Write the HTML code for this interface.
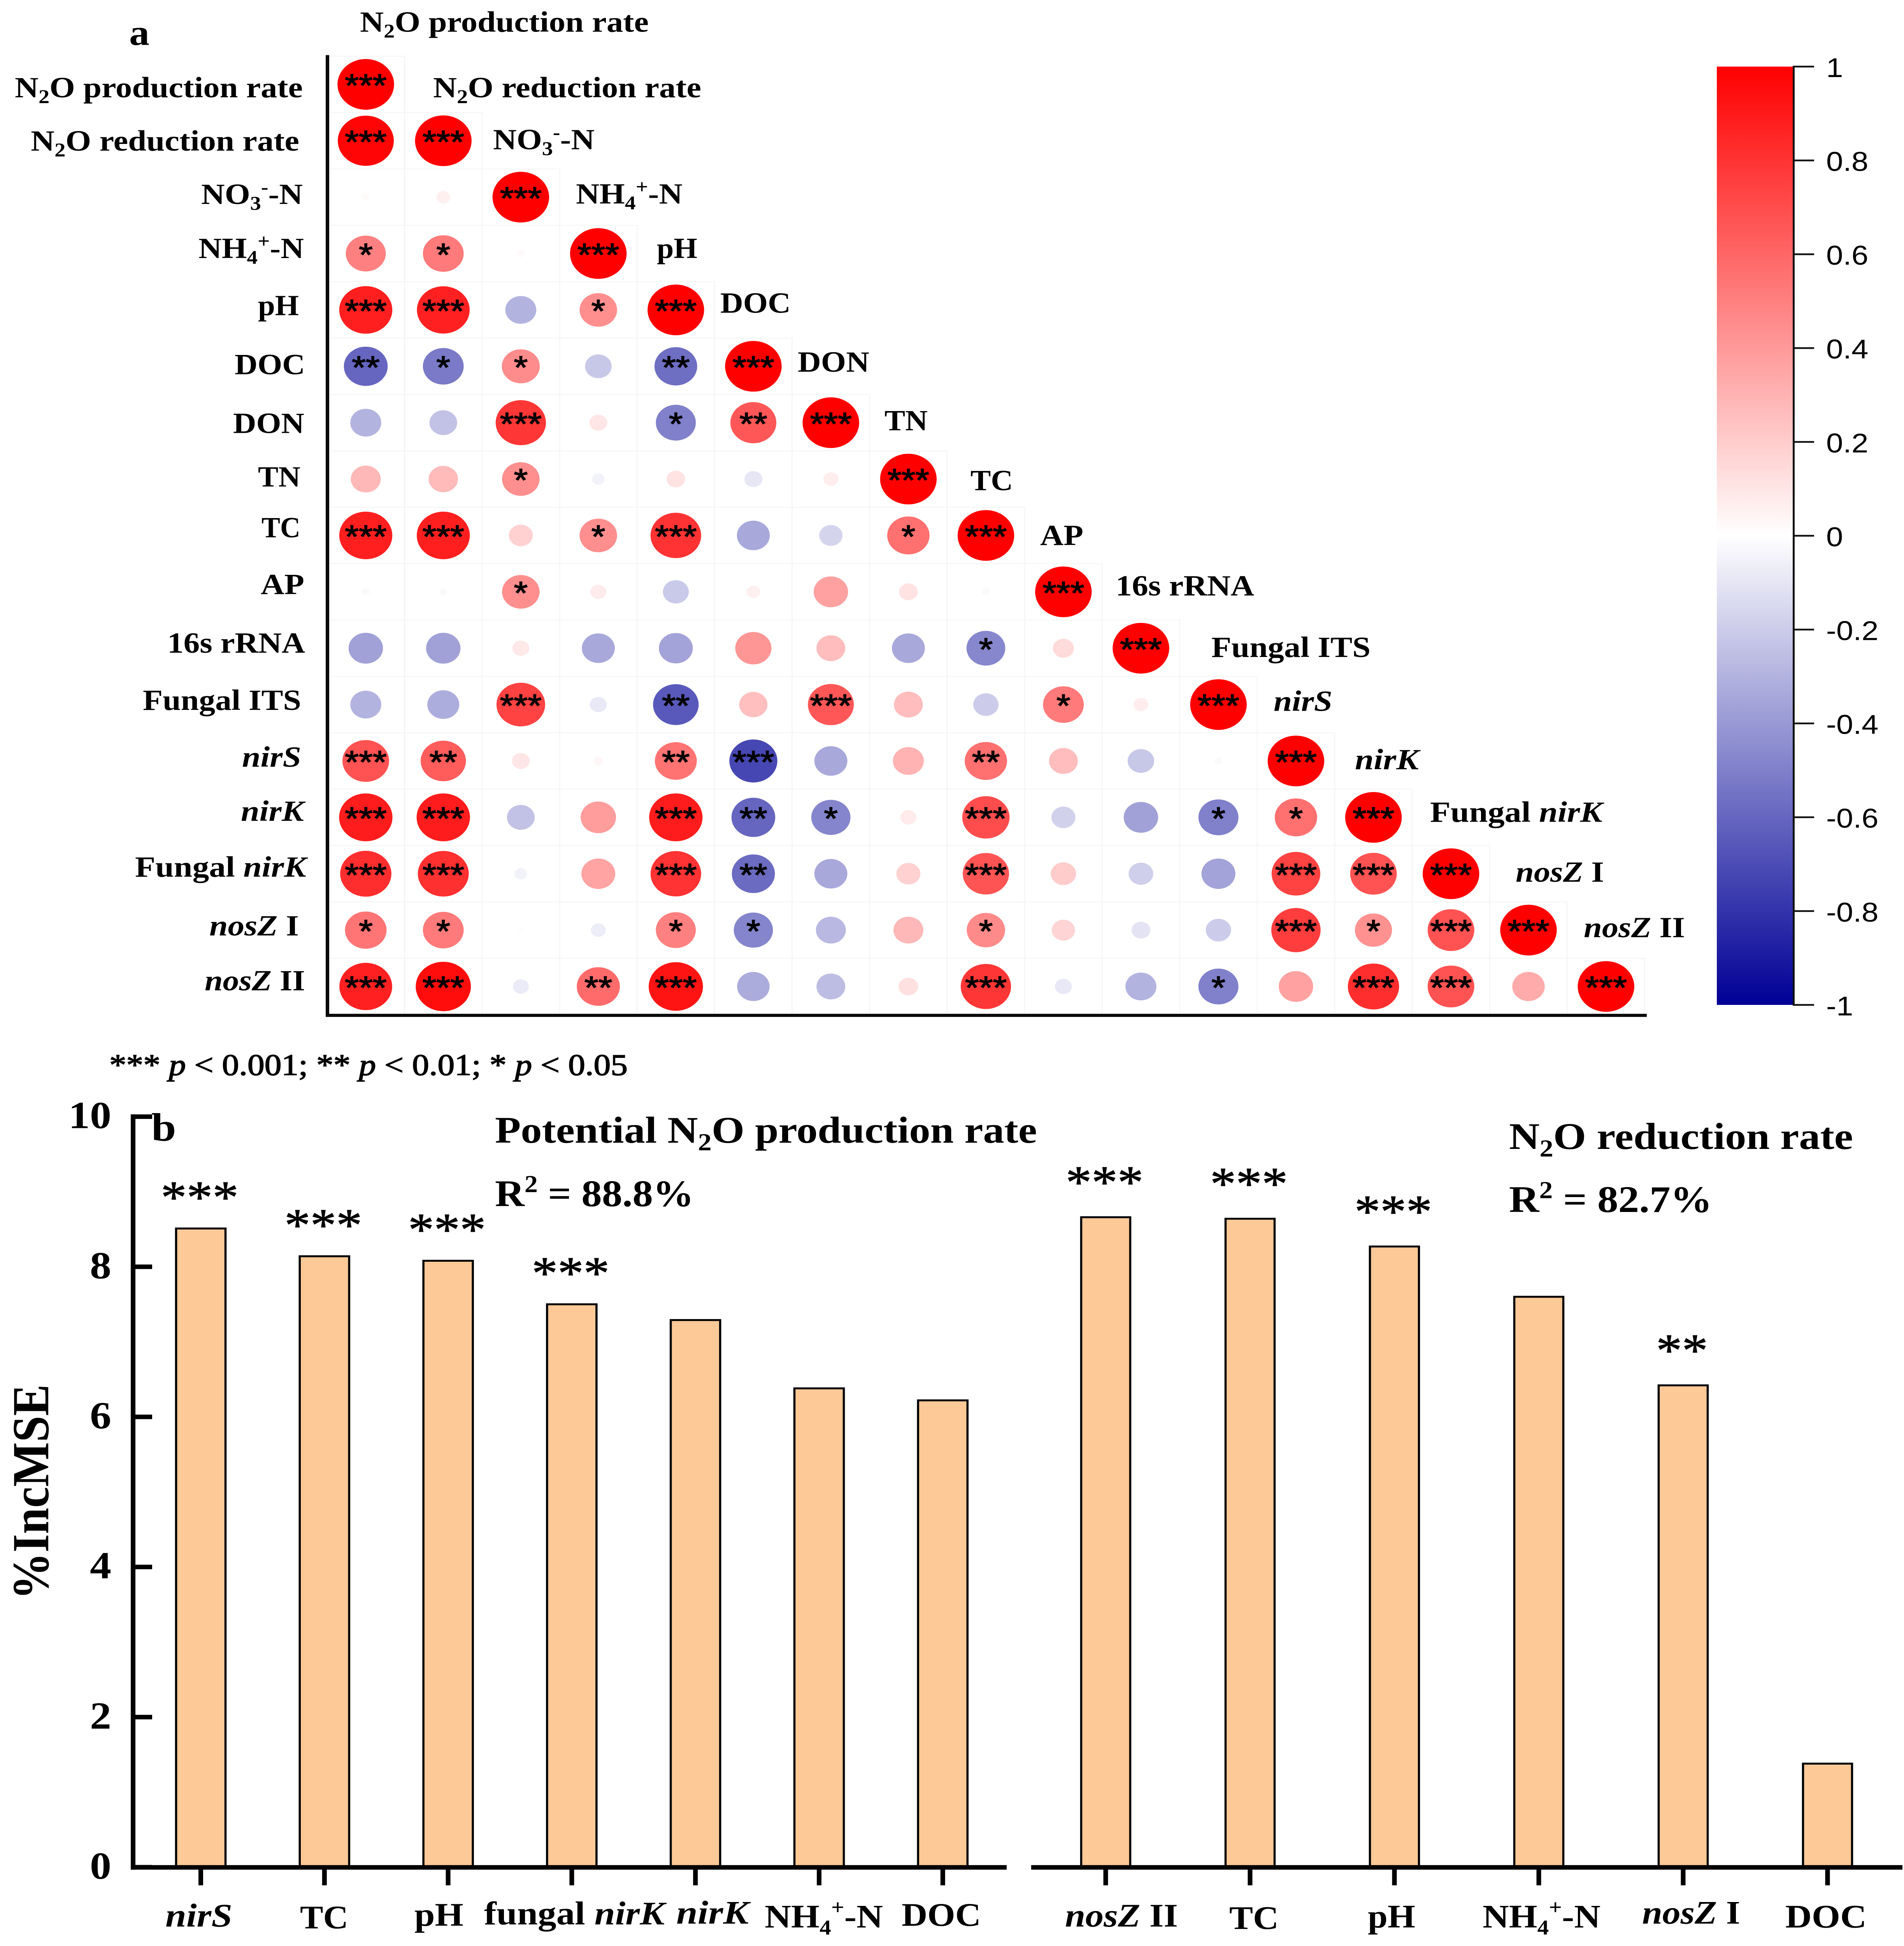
<!DOCTYPE html>
<html lang="en">
<head>
<meta charset="utf-8">
<title>Correlation matrix and random forest importance</title>
<style>
html,body{margin:0;padding:0;background:#fff;width:4893px;height:5581px;overflow:hidden;}
svg{display:block;width:4893px;height:5581px;}
text{fill:#000;}
.serif{font-family:"Liberation Serif",serif;}
.b{font-family:"Liberation Serif",serif;font-weight:bold;}
.lab{font-family:"Liberation Serif",serif;font-weight:bold;font-size:84px;}
.xl{font-family:"Liberation Serif",serif;font-weight:bold;font-size:95px;}
.it{font-style:italic;}
.sans{font-family:"Liberation Sans",sans-serif;}
</style>
</head>
<body>
<svg id="fig" xmlns="http://www.w3.org/2000/svg" width="4893" height="5581" viewBox="0 0 4893 5581" preserveAspectRatio="none">
<defs>
<linearGradient id="cbar" x1="0" y1="0" x2="0" y2="1">
<stop offset="0" stop-color="#ff0000"/>
<stop offset="0.5" stop-color="#ffffff"/>
<stop offset="1" stop-color="#000096"/>
</linearGradient>
</defs>
<rect x="0" y="0" width="4893" height="5581" fill="#fff"/>

<g id="corr-grid"></g>
<g id="corr-marks"></g>
<g id="corr-stars"></g>

<rect x="837" y="158" width="9" height="2758" fill="#0a0a0a"/>
<rect x="837" y="2907.5" width="3395" height="9" fill="#0a0a0a"/>

<text class="b" x="332" y="129" font-size="104">a</text>

<!-- top label -->
<text class="lab" x="925" y="91" textLength="742" lengthAdjust="spacingAndGlyphs">N<tspan dy="16" font-size="56">2</tspan><tspan dy="-16">O production rate</tspan></text>

<!-- row labels -->
<text class="lab" x="38" y="279" textLength="740" lengthAdjust="spacingAndGlyphs">N<tspan dy="16" font-size="56">2</tspan><tspan dy="-16">O production rate</tspan></text>
<text class="lab" x="79" y="432" textLength="690" lengthAdjust="spacingAndGlyphs">N<tspan dy="16" font-size="56">2</tspan><tspan dy="-16">O reduction rate</tspan></text>
<text class="lab" x="517" y="585" textLength="261" lengthAdjust="spacingAndGlyphs">NO<tspan dy="16" font-size="56">3</tspan><tspan dy="-46" font-size="56">-</tspan><tspan dy="30">-N</tspan></text>
<text class="lab" x="510" y="740" textLength="271" lengthAdjust="spacingAndGlyphs">NH<tspan dy="16" font-size="56">4</tspan><tspan dy="-46" font-size="56">+</tspan><tspan dy="30">-N</tspan></text>
<text class="lab" x="663" y="904" textLength="105" lengthAdjust="spacingAndGlyphs">pH</text>
<text class="lab" x="603" y="1073" textLength="181" lengthAdjust="spacingAndGlyphs">DOC</text>
<text class="lab" x="599" y="1242" textLength="183" lengthAdjust="spacingAndGlyphs">DON</text>
<text class="lab" x="663" y="1395" textLength="109" lengthAdjust="spacingAndGlyphs">TN</text>
<text class="lab" x="672" y="1541" textLength="100" lengthAdjust="spacingAndGlyphs">TC</text>
<text class="lab" x="670" y="1704" textLength="112" lengthAdjust="spacingAndGlyphs">AP</text>
<text class="lab" x="430" y="1872" textLength="354" lengthAdjust="spacingAndGlyphs">16s rRNA</text>
<text class="lab" x="367" y="2036" textLength="407" lengthAdjust="spacingAndGlyphs">Fungal ITS</text>
<text class="lab it" x="622" y="2199" textLength="152" lengthAdjust="spacingAndGlyphs">nirS</text>
<text class="lab it" x="619" y="2354" textLength="162" lengthAdjust="spacingAndGlyphs">nirK</text>
<text class="lab" x="347" y="2514" textLength="440" lengthAdjust="spacingAndGlyphs">Fungal <tspan class="it">nirK</tspan></text>
<text class="lab" x="538" y="2683" textLength="230" lengthAdjust="spacingAndGlyphs"><tspan class="it">nosZ</tspan> I</text>
<text class="lab" x="526" y="2840" textLength="258" lengthAdjust="spacingAndGlyphs"><tspan class="it">nosZ</tspan> II</text>

<!-- diagonal labels -->
<text class="lab" x="1113" y="279" textLength="689" lengthAdjust="spacingAndGlyphs">N<tspan dy="16" font-size="56">2</tspan><tspan dy="-16">O reduction rate</tspan></text>
<text class="lab" x="1267" y="428" textLength="261" lengthAdjust="spacingAndGlyphs">NO<tspan dy="16" font-size="56">3</tspan><tspan dy="-46" font-size="56">-</tspan><tspan dy="30">-N</tspan></text>
<text class="lab" x="1480" y="584" textLength="274" lengthAdjust="spacingAndGlyphs">NH<tspan dy="16" font-size="56">4</tspan><tspan dy="-46" font-size="56">+</tspan><tspan dy="30">-N</tspan></text>
<text class="lab" x="1688" y="740" textLength="104" lengthAdjust="spacingAndGlyphs">pH</text>
<text class="lab" x="1851" y="897" textLength="181" lengthAdjust="spacingAndGlyphs">DOC</text>
<text class="lab" x="2050" y="1066" textLength="184" lengthAdjust="spacingAndGlyphs">DON</text>
<text class="lab" x="2273" y="1234" textLength="111" lengthAdjust="spacingAndGlyphs">TN</text>
<text class="lab" x="2494" y="1406" textLength="109" lengthAdjust="spacingAndGlyphs">TC</text>
<text class="lab" x="2673" y="1563" textLength="111" lengthAdjust="spacingAndGlyphs">AP</text>
<text class="lab" x="2867" y="1708" textLength="356" lengthAdjust="spacingAndGlyphs">16s rRNA</text>
<text class="lab" x="3113" y="1884" textLength="409" lengthAdjust="spacingAndGlyphs">Fungal ITS</text>
<text class="lab it" x="3273" y="2039" textLength="151" lengthAdjust="spacingAndGlyphs">nirS</text>
<text class="lab it" x="3482" y="2206" textLength="164" lengthAdjust="spacingAndGlyphs">nirK</text>
<text class="lab" x="3675" y="2357" textLength="443" lengthAdjust="spacingAndGlyphs">Fungal <tspan class="it">nirK</tspan></text>
<text class="lab" x="3895" y="2529" textLength="227" lengthAdjust="spacingAndGlyphs"><tspan class="it">nosZ</tspan> I</text>
<text class="lab" x="4070" y="2688" textLength="260" lengthAdjust="spacingAndGlyphs"><tspan class="it">nosZ</tspan> II</text>

<!-- colorbar -->
<rect x="4412" y="191" width="198" height="2691" fill="url(#cbar)"/>
<rect x="4607" y="189" width="5" height="2695" fill="#111"/>
<g id="cbar-ticks"></g>

<text class="serif" x="281" y="3083" font-size="86" textLength="1332" lengthAdjust="spacingAndGlyphs" stroke="#000" stroke-width="2">*** <tspan class="it">p</tspan> &lt; 0.001; ** <tspan class="it">p</tspan> &lt; 0.01; * <tspan class="it">p</tspan> &lt; 0.05</text>

<!-- panel b -->
<g id="bars-a"></g>
<g id="bars-b"></g>
<g id="y-ticks"></g>

<rect x="336" y="3196" width="12" height="2166" fill="#000"/>
<rect x="336" y="5349" width="2251" height="13" fill="#000"/>
<rect x="2650" y="5349" width="2239" height="13" fill="#000"/>

<text class="b" x="389" y="3271" font-size="114">b</text>
<text class="b" x="1272" y="3277" font-size="108" textLength="1393" lengthAdjust="spacingAndGlyphs">Potential N<tspan dy="22" font-size="70">2</tspan><tspan dy="-22">O production rate</tspan></text>
<text class="b" x="1272" y="3459" font-size="108" textLength="511" lengthAdjust="spacingAndGlyphs">R<tspan dy="-40" font-size="70">2</tspan><tspan dy="40"> = 88.8%</tspan></text>
<text class="b" x="3878" y="3295" font-size="108" textLength="884" lengthAdjust="spacingAndGlyphs">N<tspan dy="22" font-size="70">2</tspan><tspan dy="-22">O reduction rate</tspan></text>
<text class="b" x="3878" y="3476" font-size="108" textLength="522" lengthAdjust="spacingAndGlyphs">R<tspan dy="-40" font-size="70">2</tspan><tspan dy="40"> = 82.7%</tspan></text>

<text class="b" transform="translate(124,4588) rotate(-90)" font-size="134" textLength="618" lengthAdjust="spacingAndGlyphs">%IncMSE</text>

<!-- x tick labels -->
<text class="xl it" x="425" y="5525" textLength="172" lengthAdjust="spacingAndGlyphs">nirS</text>
<text class="xl" x="771" y="5530" textLength="124" lengthAdjust="spacingAndGlyphs">TC</text>
<text class="xl" x="1065" y="5523" textLength="126" lengthAdjust="spacingAndGlyphs">pH</text>
<text class="xl" x="1244" y="5519" textLength="464" lengthAdjust="spacingAndGlyphs">fungal <tspan class="it">nirK</tspan></text>
<text class="xl it" x="1738" y="5517" textLength="186" lengthAdjust="spacingAndGlyphs">nirK</text>
<text class="xl" x="1965" y="5528" textLength="304" lengthAdjust="spacingAndGlyphs">NH<tspan dy="20" font-size="60">4</tspan><tspan dy="-58" font-size="60">+</tspan><tspan dy="38">-N</tspan></text>
<text class="xl" x="2317" y="5523" textLength="204" lengthAdjust="spacingAndGlyphs">DOC</text>
<text class="xl" x="2737" y="5525" textLength="290" lengthAdjust="spacingAndGlyphs"><tspan class="it">nosZ</tspan> II</text>
<text class="xl" x="3159" y="5532" textLength="127" lengthAdjust="spacingAndGlyphs">TC</text>
<text class="xl" x="3515" y="5528" textLength="122" lengthAdjust="spacingAndGlyphs">pH</text>
<text class="xl" x="3810" y="5528" textLength="303" lengthAdjust="spacingAndGlyphs">NH<tspan dy="20" font-size="60">4</tspan><tspan dy="-58" font-size="60">+</tspan><tspan dy="38">-N</tspan></text>
<text class="xl" x="4220" y="5517" textLength="252" lengthAdjust="spacingAndGlyphs"><tspan class="it">nosZ</tspan> I</text>
<text class="xl" x="4588" y="5528" textLength="209" lengthAdjust="spacingAndGlyphs">DOC</text>
</svg>

<script>
var NS = 'http://www.w3.org/2000/svg';

/* ---- correlation matrix data (lower triangle, by row) ---- */
var variables = ['N2O production rate','N2O reduction rate','NO3-N','NH4-N','pH','DOC','DON','TN','TC','AP','16s rRNA','Fungal ITS','nirS','nirK','Fungal nirK','nosZ I','nosZ II'];
var corrValues = [
  [1],
  [0.98,1],
  [0.02,0.06,1],
  [0.5,0.52,0.02,1],
  [0.88,0.87,-0.3,0.44,1],
  [-0.6,-0.52,0.45,-0.22,-0.57,1],
  [-0.3,-0.24,0.79,0.1,-0.5,0.66,1],
  [0.28,0.27,0.44,-0.05,0.11,-0.1,0.07,1],
  [0.88,0.88,0.18,0.44,0.8,-0.34,-0.17,0.56,1],
  [-0.02,-0.02,0.44,0.08,-0.21,0.06,0.37,0.11,-0.02,1],
  [-0.37,-0.37,0.09,-0.34,-0.36,0.41,0.26,-0.34,-0.47,0.14,1],
  [-0.3,-0.32,0.74,-0.09,-0.65,0.25,0.66,0.26,-0.2,0.52,0.07,1],
  [0.68,0.64,0.1,0.03,0.55,-0.72,-0.34,0.3,0.56,0.26,-0.22,-0.02,1],
  [0.89,0.89,-0.24,0.39,0.89,-0.6,-0.48,0.08,0.7,-0.18,-0.37,-0.5,0.56,1],
  [0.82,0.81,-0.05,0.36,0.8,-0.58,-0.34,0.18,0.67,0.2,-0.19,-0.36,0.74,0.68,1],
  [0.54,0.52,0.01,-0.07,0.5,-0.48,-0.28,0.28,0.46,0.17,-0.11,-0.2,0.76,0.43,0.68,1],
  [0.87,0.95,-0.08,0.58,0.92,-0.33,-0.26,0.12,0.79,-0.09,-0.3,-0.5,0.37,0.82,0.68,0.33,1]
];
var starCounts = [
  '3',
  '33',
  '003',
  '1103',
  '33013',
  '211023',
  '0030123',
  '00100003',
  '330130013',
  '0010000003',
  '00000000103',
  '003020300103',
  '3200230020003',
  '33003210300113',
  '330032003000333',
  '1100110010003133',
  '33023000300103303'
];

/* ---- colorbar ticks ---- */
var cbarTicks = ['1','0.8','0.6','0.4','0.2','0','-0.2','-0.4','-0.6','-0.8','-1'];
var cbarValues = [1,0.8,0.6,0.4,0.2,0,-0.2,-0.4,-0.6,-0.8,-1];

/* ---- importance bars ---- */
var categoriesA = ['nirS','TC','pH','fungal nirK','nirK','NH4-N','DOC'];
var importanceA = [8.51,8.14,8.08,7.5,7.29,6.38,6.22];
var categoriesB = ['nosZ II','TC','pH','NH4-N','nosZ I','DOC'];
var importanceB = [8.66,8.64,8.27,7.6,6.42,1.38];
var signifA = ['***','***','***','***','','',''];
var signifB = ['***','***','***','','**',''];
var yTickValues = [0,2,4,6,8,10];

/* ---- scales ---- */
function colX(i){ return 940 + i * 199.2; }
function rowY(i){ return 242 + i * 161.7; }
function cbarY(v){ return 1536.5 - v * 1345.5; }
function impY(v){ return 5355 - v * 215.25; }
function barAX(i){ return 516 + i * 317.8; }
function barBX(i){ return 2841.5 + i * 371; }
function corrColor(r){
  var a = Math.abs(r), c;
  if (r >= 0) {
    c = Math.round(255 * (1 - a));
    return 'rgb(255,' + c + ',' + c + ')';
  }
  c = Math.round(255 * (1 - a));
  return 'rgb(' + c + ',' + c + ',' + Math.round(255 - a * 105) + ')';
}
function make(tag, parent){
  var el = document.createElementNS(NS, tag);
  parent.appendChild(el);
  return el;
}

var gridG = document.getElementById('corr-grid');
var markG = document.getElementById('corr-marks');
var starG = document.getElementById('corr-stars');
corrValues.forEach(function(row, ri){
  row.forEach(function(r, ci){
    var cell = make('rect', gridG);
    cell.setAttribute('x', colX(ci) - 99.6);
    cell.setAttribute('y', rowY(ri) - 80.85);
    cell.setAttribute('width', 199.2);
    cell.setAttribute('height', 161.7);
    cell.setAttribute('fill', '#fff');
    cell.setAttribute('stroke', '#f6f6f6');
    cell.setAttribute('stroke-width', 3);
    
    

    var c = make('circle', markG);
    c.setAttribute('cx', colX(ci));
    c.setAttribute('cy', rowY(ri));
    c.setAttribute('r', 72.7 * Math.sqrt(Math.abs(r)));
    c.setAttribute('fill', corrColor(r));
    
    

    var n = parseInt(starCounts[ri].charAt(ci) || '0', 10);
    if (n > 0) {
      var s = make('text', starG);
      s.setAttribute('x', colX(ci));
      s.setAttribute('y', rowY(ri) + 35);
      s.setAttribute('text-anchor', 'middle');
      s.setAttribute('font-size', 92);
      s.setAttribute('font-family', '"Liberation Sans", sans-serif');
      s.setAttribute('stroke', '#000');
      s.setAttribute('stroke-width', 2);
      
      
      s.textContent = '***'.slice(0, n);
    }
  });
});

var cbG = document.getElementById('cbar-ticks');
cbarValues.forEach(function(v, i){
  var t = make('rect', cbG);
  t.setAttribute('x', 4607);
  t.setAttribute('y', cbarY(v) - 2.5);
  t.setAttribute('width', 55);
  t.setAttribute('height', 5);
  t.setAttribute('fill', '#111');
  
  
  var l = make('text', cbG);
  l.setAttribute('x', 4693);
  l.setAttribute('y', cbarY(v) + 30);
  l.setAttribute('font-size', 78);
  l.setAttribute('font-family', '"Liberation Sans", sans-serif');
  
  
  l.textContent = cbarTicks[i];
});

function drawBars(groupId, values, signif, xFn, barW, starOffset, suffix){
  var g = document.getElementById(groupId);
  values.forEach(function(v, i){
    var x = xFn(i), top = impY(v);
    var r = make('rect', g);
    r.setAttribute('x', x - barW / 2);
    r.setAttribute('y', top);
    r.setAttribute('width', barW);
    r.setAttribute('height', impY(0) - top);
    r.setAttribute('fill', '#fcc997');
    r.setAttribute('stroke', '#000');
    r.setAttribute('stroke-width', 5.5);
    
    
    var tk = make('rect', g);
    tk.setAttribute('x', x - 6);
    tk.setAttribute('y', impY(0));
    tk.setAttribute('width', 12);
    tk.setAttribute('height', 52);
    tk.setAttribute('fill', '#000');
    
    
    if (signif[i]) {
      var st = make('text', g);
      st.setAttribute('x', x - 3);
      st.setAttribute('y', top - starOffset);
      st.setAttribute('text-anchor', 'middle');
      st.setAttribute('font-size', 133);
      st.setAttribute('font-family', '"Liberation Serif", serif');
      st.setAttribute('stroke', '#000');
      st.setAttribute('stroke-width', 1.5);
      
      
      st.textContent = signif[i];
    }
  });
}
drawBars('bars-a', importanceA, signifA, barAX, 127, 45, 'production');
drawBars('bars-b', importanceB, signifB, barBX, 126, 56, 'reduction');

var ytG = document.getElementById('y-ticks');
yTickValues.forEach(function(v){
  var t = make('rect', ytG);
  t.setAttribute('x', 340);
  t.setAttribute('y', impY(v) - 6.5);
  t.setAttribute('width', 51);
  t.setAttribute('height', 13);
  t.setAttribute('fill', '#000');
  
  
  var l = make('text', ytG);
  l.setAttribute('x', 286);
  l.setAttribute('y', impY(v) + 33);
  l.setAttribute('text-anchor', 'end');
  l.setAttribute('font-size', 110);
  l.setAttribute('font-weight', 'bold');
  l.setAttribute('font-family', '"Liberation Serif", serif');
  
  
  l.textContent = String(v);
});

/* keep the whole figure inside the frame if the viewport is shorter than the page */
if (window.innerHeight > 4000 && window.innerHeight < 5581) {
  var frameH = window.innerHeight + 'px';
  document.documentElement.style.height = frameH;
  document.body.style.height = frameH;
  document.getElementById('fig').style.height = frameH;
}
</script>
</body>
</html>
